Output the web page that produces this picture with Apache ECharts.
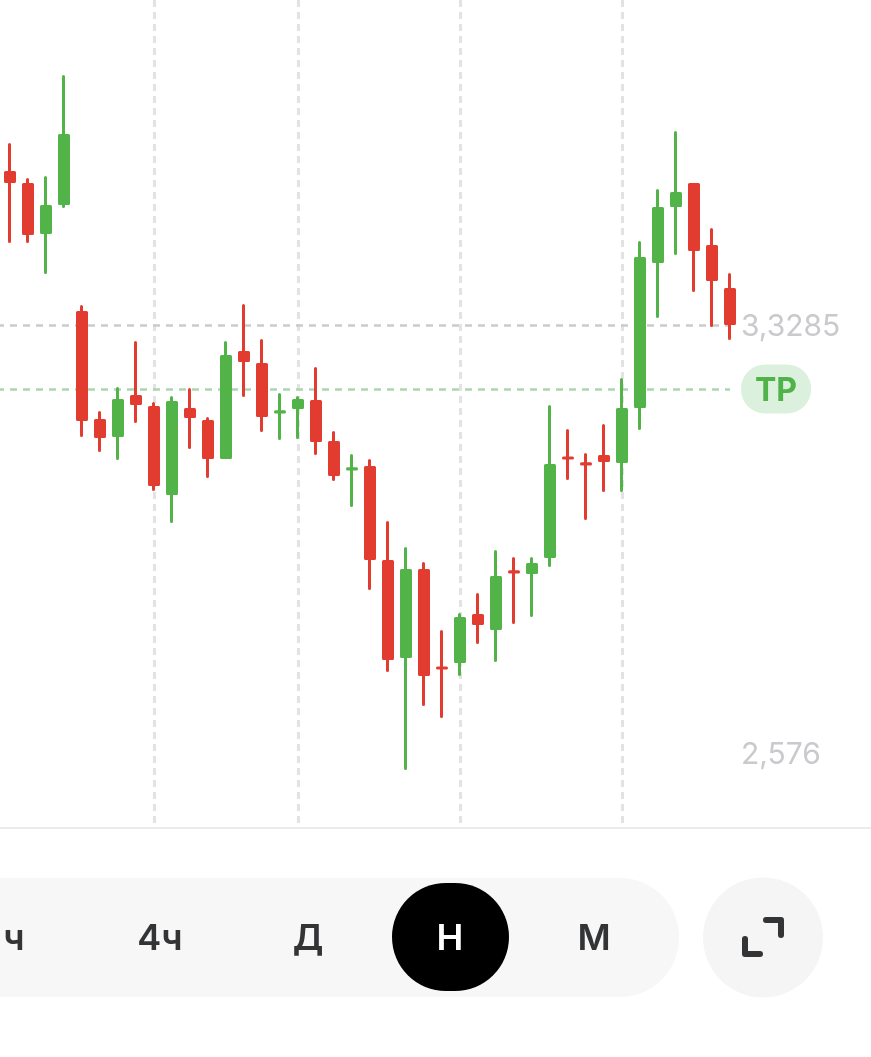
<!DOCTYPE html>
<html>
<head>
<meta charset="utf-8">
<style>html,body{margin:0;padding:0;background:#fff}#c{width:871px;height:1057px}</style>
<script src="https://cdn.jsdelivr.net/npm/echarts@6/dist/echarts.min.js"></script>
</head>
<body>
<div id="c"></div>
<script>
// Candle values (left to right)
const opens  = [3.5969,3.5758,3.4913,3.5423,3.3505,3.1604,3.1340,3.2027,3.1833,3.0319,3.1798,3.1587,3.0953,3.2801,3.2590,3.1752,3.1833,3.1939,3.1217,3.0749,3.0777,2.9123,2.7451,2.8964,2.7250,2.7363,2.8172,2.7943,2.8940,2.8929,2.9211,3.0946,3.0841,3.0971,3.0883,3.1851,3.4403,3.5388,3.5758,3.4667,3.3910];
const closes = [3.5811,3.4895,3.5371,3.6620,3.1622,3.1323,3.1956,3.1903,3.0478,3.1921,3.1675,3.0953,3.2731,3.2660,3.1692,3.1756,3.1956,3.1252,3.0654,3.0753,2.9175,2.7415,2.8964,2.7134,2.7246,2.8119,2.8031,2.8841,2.8936,2.9070,3.0812,3.0942,3.0837,3.0900,3.1798,3.4455,3.5335,3.5599,3.4614,3.4086,3.3311];
const lows   = [3.4755,3.4755,3.4209,3.5371,3.1340,3.1076,3.0935,3.1587,3.0390,2.9827,3.1129,3.0619,3.0953,3.2044,3.1428,3.1287,3.1305,3.1023,3.0566,3.0108,2.8647,2.7204,2.5479,2.6606,2.6395,2.7134,2.7697,2.7380,2.8049,2.8172,2.9052,3.0583,2.9879,3.0372,3.0372,3.1463,3.3435,3.4543,3.3892,3.3276,3.3047];
const highs  = [3.6462,3.5846,3.5881,3.7659,3.3611,3.1745,3.2167,3.2977,3.1903,3.2009,3.2150,3.1639,3.2977,3.3628,3.3012,3.2062,3.2009,3.2519,3.1393,3.0988,3.0900,2.9809,2.9351,2.9087,2.7891,2.8190,2.8542,2.9299,2.9175,2.9175,3.1851,3.1428,3.1006,3.1516,3.2326,3.4737,3.5652,3.6673,3.5758,3.4966,3.4174];
const categories = ['','1','2','3','4','5','6','7','8','9','10','11','12','13','14','15','16','17','18','19','20','21','22','23','24','25','26','27','28','29','30','31','32','33','34','35','36','37','38','39','40','41','','','','','','','',''].map((s,i)=>s||('p'+i));
const gridCategories = ['9','17','26','35'];
const priceLevel = 3.3285;
const tpLevel = 3.2159;
const yTicks = [2.576, 3.3285];
const yMin = 2.4432, yMax = 3.9005;
const lastCategory = '41', firstCategory = categories[0];
const periods = ['ч','4ч','Д','Н','М'];

const RED='#e23c30', GREEN='#52b448', TEXT='#333436';
const candles = [null].concat(opens.map((o,i)=>[o,closes[i],lows[i],highs[i]])).map(d=>d||'-');

const chart = echarts.init(document.getElementById('c'),null,{renderer:'canvas'});
chart.setOption({
  animation:false,
  backgroundColor:'#fff',
  grid:{left:-17,width:900,top:0,height:828,containLabel:false,outerBoundsMode:'none'},
  xAxis:{type:'category',data:categories,boundaryGap:true,
    axisLine:{show:true,lineStyle:{color:'#e4e4e4',width:1.5}},
    axisTick:{show:false},axisLabel:{show:false},splitLine:{show:false}},
  yAxis:{type:'value',min:yMin,max:yMax,position:'right',scale:true,
    axisLine:{show:false},axisTick:{show:false},splitLine:{show:false},
    axisLabel:{show:true,inside:true,customValues:yTicks,margin:142,align:'left',
      formatter:v=>'{v|'+String(v).replace('.',',')+'}',
      rich:{v:{color:'#c9cacd',fontFamily:'Inter',fontSize:30,padding:[4,0,0,0]}}}},
  series:[
    {type:'line',data:[],z:1,silent:true,symbol:'none',
      markLine:{silent:true,symbol:'none',animation:false,precision:4,z:1,
        label:{show:false},
        data:[
          ...gridCategories.map(c=>({xAxis:c,lineStyle:{color:'#e3e3e3',width:3,type:[7,5],dashOffset:7}})),
          [{coord:[firstCategory,priceLevel],lineStyle:{color:'#cbcbcb',width:2.5,type:[7,6],dashOffset:8}},{coord:[lastCategory,priceLevel]}],
          [{coord:[firstCategory,tpLevel],lineStyle:{color:'#acd6b0',width:2.5,type:[7,6],dashOffset:8},
            label:{show:true,position:'end',formatter:'{t|TP}',distance:11,
              rich:{t:{color:'#4fb34a',fontFamily:'Inter',fontWeight:700,fontSize:32,padding:[3,0,0,0]}},
              backgroundColor:'#dcf1dd',borderRadius:24,padding:[8,14,6,14]}},
           {coord:[lastCategory,tpLevel]}]
        ]}},
    {type:'candlestick',z:3,data:candles,barWidth:9,clip:false,
      itemStyle:{color:GREEN,color0:RED,borderColor:GREEN,borderColor0:RED,borderWidth:3,
        borderJoin:'round',borderCap:'round'}}
  ],
  graphic:[
    {type:'rect',z:10,shape:{x:-70,y:878,width:749,height:119,r:59},style:{fill:'#f7f7f8'}},
    {type:'rect',z:11,shape:{x:392,y:883,width:117,height:108,r:54},style:{fill:'#000'}},
    {type:'circle',z:10,shape:{cx:763,cy:937.5,r:60},style:{fill:'#f5f5f6'}},
    {type:'polyline',z:11,shape:{points:[[766,920],[781,920],[781,935]]},style:{stroke:TEXT,lineWidth:6,lineCap:'round',lineJoin:'round',fill:null}},
    {type:'polyline',z:11,shape:{points:[[745,939],[745,954],[760,954]]},style:{stroke:TEXT,lineWidth:6,lineCap:'round',lineJoin:'round',fill:null}},
    ...[14,160,308,450,594].map((x,i)=>({type:'text',z:12,x:x,y:939,style:{
      text:periods[i],fill:i===3?'#fff':TEXT,font:'600 36px Inter',align:'center',verticalAlign:'middle'}}))
  ]
});
</script>
</body>
</html>
